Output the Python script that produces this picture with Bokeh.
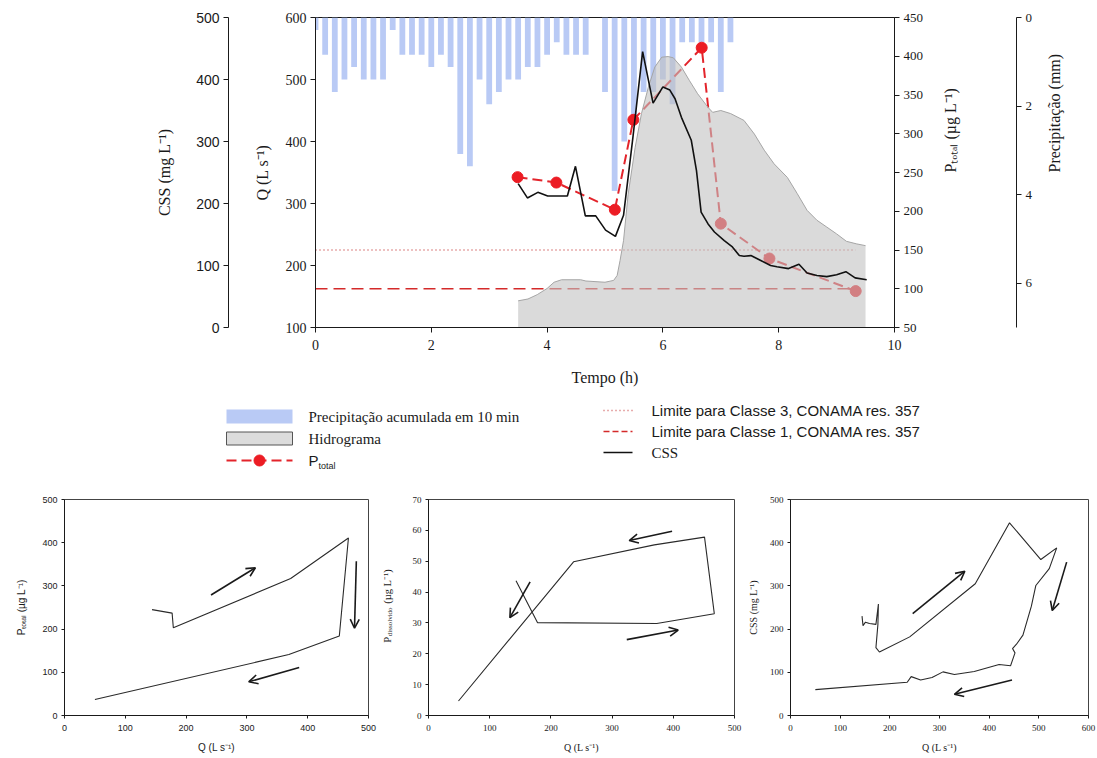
import math
from bokeh.plotting import figure
from bokeh.layouts import column, row
from bokeh.models import Range1d, LinearAxis, FixedTicker, Arrow, OpenHead
from bokeh.embed import file_html
from bokeh.resources import INLINE
from bokeh.core.properties import value

SERIF = "Liberation Serif"
SANS = "Liberation Sans"
TXT = "#1a1a1a"

# ---------------- data: top chart ----------------
precip_min = [0, 10, 20, 30, 40, 50, 60, 70, 80, 90, 100, 110, 120, 130, 140, 150, 160,
              170, 180, 190, 200, 210, 220, 230, 240, 250, 260, 270, 280,
              300, 310, 320, 330, 340, 350, 360, 370, 380, 390, 400, 410, 420, 430]
precip_mm = [0.28, 0.84, 1.68, 1.40, 1.12, 1.40, 1.40, 1.40, 0.28, 0.84, 0.84, 0.84, 1.12,
             0.84, 1.12, 3.08, 3.36, 1.40, 1.96, 1.68, 1.40, 1.40, 1.12, 1.12, 0.84, 0.56,
             0.84, 0.84, 0.84,
             1.68, 3.92, 2.80, 2.24, 1.68, 1.68, 1.40, 1.96, 0.56, 0.56, 0.56, 0.56, 1.68, 0.56]

q_t = [3.50, 3.67, 3.83, 4.00, 4.12, 4.25, 4.58, 4.67, 5.00, 5.15, 5.21, 5.26, 5.32, 5.40,
       5.52, 5.63, 5.75, 5.86, 5.98, 6.09, 6.18, 6.32, 6.46, 6.60, 6.78, 6.86, 7.00, 7.17,
       7.40, 7.58, 7.75, 7.92, 8.15, 8.32, 8.49, 8.66, 8.83, 9.00, 9.17, 9.34, 9.50]
q_val = [143, 146, 153, 163, 173, 177, 177, 175, 173, 176, 184, 208, 240, 315,
         390, 445, 488, 520, 536, 537, 535, 520, 498, 477, 455, 447, 450, 445,
         434, 412, 386, 364, 342, 316, 289, 273, 262, 251, 239, 235, 232]

css_t = [3.50, 3.66, 3.84, 4.01, 4.35, 4.49, 4.66, 4.84, 5.01, 5.18, 5.32, 5.48, 5.65, 5.83,
         6.00, 6.12, 6.21, 6.32, 6.49, 6.58, 6.66, 6.78, 6.89, 7.06, 7.20, 7.32, 7.40, 7.52,
         7.69, 7.86, 7.97, 8.17, 8.35, 8.49, 8.66, 8.83, 9.00, 9.16, 9.32, 9.52]
css_val = [232, 209, 218, 212, 212, 260, 180, 180, 157, 147, 181, 305, 445, 362,
           388, 383, 369, 339, 302, 253, 186, 167, 154, 140, 130, 116, 115, 116,
           108, 100, 98, 95, 102, 88, 84, 82, 85, 90, 80, 77]

p_t = [3.49, 4.16, 5.17, 5.49, 6.67, 7.00, 7.84, 9.33]
p_val = [244, 237, 202, 318, 411, 184, 139, 97]

limit_t = [0.0, 9.33]
limit_classe3 = 150
limit_classe1 = 100

x_ticks = [0, 2, 4, 6, 8, 10]
q_ticks = [100, 200, 300, 400, 500, 600]
css_ticks = [0, 100, 200, 300, 400, 500]
p_ticks = [50, 100, 150, 200, 250, 300, 350, 400, 450]
precip_ticks = [0, 2, 4, 6]

# ---------------- data: bottom charts ----------------
b1_q = [144, 177, 179, 372, 467, 452, 369, 50]
b1_p = [245, 237, 203, 317, 411, 184, 141, 37]
b1_arrows = [((241, 279), (314, 342)), ((480, 357), (477, 202)), ((386, 111), (303, 78))]

b2_q = [143, 178, 373, 467, 451, 369, 237, 49]
b2_p = [43.7, 30.1, 29.8, 33.0, 57.8, 55.3, 49.8, 4.7]
b2_arrows = [((398, 59.7), (328, 56.7)), ((166, 43.3), (133, 31.7)), ((324, 24.6), (408, 27.7))]

b3_q = [144, 146, 151, 159, 172, 177, 176, 172, 179, 240, 372, 441, 504, 536, 521, 494,
        485, 468, 455, 447, 452, 443, 420, 370, 330, 307, 285, 262, 243, 235, 50]
b3_css = [230, 208, 216, 213, 211, 258, 211, 157, 147, 182, 305, 446, 361, 388, 340, 301,
          253, 186, 165, 155, 145, 115, 118, 102, 95, 101, 88, 82, 90, 77, 60]
b3_arrows = [((246, 236), (351, 334)), ((556, 355), (527, 243)), ((446, 82), (330, 49))]

# ---------------- helpers ----------------
def style_axis(ax, ticks, font, size, label=None, label_font=SERIF, label_size=16,
               label_standoff=8, tick_out=5, label_gap=4):
    ax.ticker = FixedTicker(ticks=ticks)
    ax.minor_tick_line_color = None
    ax.major_tick_in = 0
    ax.major_tick_out = tick_out
    ax.major_tick_line_color = TXT
    ax.axis_line_color = TXT
    ax.major_label_text_font = font
    ax.major_label_text_font_size = f"{size}px"
    ax.major_label_text_color = TXT
    ax.major_label_standoff = label_gap
    if label is not None:
        ax.axis_label = label
        ax.axis_label_text_font = label_font
        ax.axis_label_text_font_size = f"{label_size}px"
        ax.axis_label_text_font_style = "normal"
        ax.axis_label_text_color = TXT
        ax.axis_label_standoff = label_standoff


def blank(f):
    f.grid.visible = False
    f.background_fill_color = "white"
    f.border_fill_color = "white"


TOP_H = 390
precip_h = [m / 60 for m in precip_min]

q_range = Range1d(100, 600)
css_range = Range1d(0, 500)
p_range = Range1d(50, 450)
precip_range = Range1d(7, 0)

# CSS axis (own narrow figure)
cssf = figure(width=240, height=TOP_H, x_range=Range1d(0, 1), y_range=css_range,
              min_border_left=228, min_border_right=0, min_border_top=17, min_border_bottom=63,
              output_backend="svg", toolbar_location=None)
blank(cssf)
cssf.outline_line_color = None
cssf.xaxis.visible = False
style_axis(cssf.yaxis[0], css_ticks, SANS, 14, "CSS (mg L\u207b\u00b9)", label_standoff=20)

# main chart
main = figure(width=730, height=TOP_H, x_range=Range1d(0, 10), y_range=q_range,
              min_border_left=75, min_border_right=72, min_border_top=17, min_border_bottom=63,
              output_backend="svg", toolbar_location=None)
blank(main)
main.outline_line_color = TXT
main.extra_y_ranges = {"css": css_range, "p": p_range, "precip": precip_range}

main.vbar(x=precip_h, width=0.1, top=0, bottom=precip_mm, y_range_name="precip",
          fill_color="#b9caf5", line_color=None)
main.line(limit_t, [limit_classe3, limit_classe3], y_range_name="p", line_color="#cf5a5a",
          line_width=1.5, line_dash="1 3")
main.line(limit_t, [limit_classe1, limit_classe1], y_range_name="p", line_color="#d42a2a",
          line_width=1.6, line_dash="12 6")
main.line(p_t, p_val, y_range_name="p", line_color="#e3242b", line_width=2, line_dash="10 5")
main.scatter(p_t, p_val, y_range_name="p", size=11, fill_color="#ec1c24", line_color="#ec1c24")
main.varea(x=q_t, y1=q_range.start, y2=q_val, fill_color="#c2c2c2", fill_alpha=0.6)
main.line(q_t, q_val, line_color="#a5a5a5", line_width=1)
main.line(css_t, css_val, y_range_name="css", line_color="#111111", line_width=1.6)

style_axis(main.yaxis[0], q_ticks, SERIF, 14, "Q (L s\u207b\u00b9)", label_standoff=12)
style_axis(main.xaxis[0], x_ticks, SERIF, 14, "Tempo (h)", label_standoff=16, label_gap=7)
p_axis = LinearAxis(y_range_name="p")
style_axis(p_axis, p_ticks, SERIF, 13, "P\u209c\u2092\u209c\u2090\u2097 (\u00b5g L\u207b\u00b9)",
           label_standoff=24)
p_axis.axis_label_orientation = math.pi / 2
main.add_layout(p_axis, "right")

# precipitation axis (own narrow figure)
prf = figure(width=119, height=TOP_H, x_range=Range1d(0, 1), y_range=precip_range,
             y_axis_location="right",
             min_border_left=0, min_border_right=73, min_border_top=17, min_border_bottom=63,
             output_backend="svg", toolbar_location=None)
blank(prf)
prf.outline_line_color = None
prf.xaxis.visible = False
style_axis(prf.yaxis[0], precip_ticks, SERIF, 13, "Precipita\u00e7\u00e3o (mm)", label_standoff=19)
prf.yaxis[0].axis_label_orientation = math.pi / 2

top = row(cssf, main, prf)

# ---------------- legend ----------------
LEG_W = 1096
leg = figure(width=LEG_W, height=87, x_range=Range1d(0, LEG_W), y_range=Range1d(87, 0),
             min_border=0, output_backend="svg", toolbar_location=None)
blank(leg)
leg.axis.visible = False
leg.outline_line_color = None

lx0, lx1 = 226, 292
leg.rect(x=[(lx0 + lx1) / 2], y=[26], width=lx1 - lx0, height=14, fill_color="#b9caf5", line_color=None)
leg.rect(x=[(lx0 + lx1) / 2], y=[48], width=lx1 - lx0, height=13, fill_color="#dcdcdc",
         line_color="#555555", line_width=1)
leg.line([lx0, lx1], [70, 70], line_color="#e3242b", line_width=2, line_dash="10 5")
leg.scatter([(lx0 + lx1) / 2], [70], size=11, fill_color="#ec1c24", line_color="#ec1c24")
leg.text(x=[308, 308], y=[26, 48], text=["Precipita\u00e7\u00e3o acumulada em 10 min", "Hidrograma"],
         text_font=value(SERIF), text_font_size="15px", text_baseline="middle", text_color=TXT)
leg.text(x=[308], y=[70], text=["P"], text_font=value(SANS), text_font_size="15px",
         text_baseline="middle", text_color=TXT)
leg.text(x=[318], y=[75], text=["total"], text_font=value(SANS), text_font_size="9px",
         text_baseline="middle", text_color=TXT)

rx0, rx1 = 603, 632
leg.line([rx0, rx1], [20, 20], line_color="#cf5a5a", line_width=1.5, line_dash="1 3")
leg.line([rx0, rx1], [41, 41], line_color="#d42a2a", line_width=1.6, line_dash="6 3")
leg.line([rx0, rx1], [62, 62], line_color="#111111", line_width=1.6)
leg.text(x=[651, 651], y=[20, 41],
         text=["Limite para Classe 3, CONAMA res. 357", "Limite para Classe 1, CONAMA res. 357"],
         text_font=value(SANS), text_font_size="15px", text_baseline="middle", text_color=TXT)
leg.text(x=[651], y=[62], text=["CSS"], text_font=value(SERIF), text_font_size="15px",
         text_baseline="middle", text_color=TXT)


# ---------------- bottom charts ----------------
BOT_H = 278
BT, BB = 22, 38


def small_plot(width, bl, br, xr, yr, xt, yt, font, xs, ys, ylabel, arrows, tick_size,
               lab_size, ylab_standoff=8):
    f = figure(width=width, height=BOT_H, x_range=Range1d(*xr), y_range=Range1d(*yr),
               min_border_left=bl, min_border_right=br, min_border_top=BT, min_border_bottom=BB,
               output_backend="svg", toolbar_location=None)
    blank(f)
    f.outline_line_color = "#444444"
    f.line(xs, ys, line_color="#2a2a2a", line_width=1.1)
    for (x0, y0), (x1, y1) in arrows:
        f.add_layout(Arrow(x_start=x0, y_start=y0, x_end=x1, y_end=y1, line_width=1.6,
                           line_color="#1a1a1a",
                           end=OpenHead(size=9, line_width=1.6, line_color="#1a1a1a")))
    style_axis(f.xaxis[0], xt, font, tick_size, "Q (L s\u207b\u00b9)", label_font=font,
               label_size=lab_size, label_standoff=8, tick_out=3, label_gap=6)
    style_axis(f.yaxis[0], yt, font, tick_size, ylabel, label_font=font,
               label_size=lab_size, label_standoff=ylab_standoff, tick_out=3)
    return f


f1 = small_plot(378, 64, 10, (0, 500), (0, 500), [0, 100, 200, 300, 400, 500],
                [0, 100, 200, 300, 400, 500], SANS, b1_q, b1_p,
                "P\u209c\u2092\u209c\u2090\u2097 (\u00b5g L\u207b\u00b9)", b1_arrows, 9, 10,
                ylab_standoff=12)

b2_yrange = Range1d(0, 70)
f2 = small_plot(349, 33, 10, (0, 500), (0, 70), [0, 100, 200, 300, 400, 500],
                [0, 10, 20, 30, 40, 50, 60, 70], SERIF, b2_q, b2_p, None, b2_arrows, 9, 10)
f2.y_range = b2_yrange

# label column for dissolved P (subscript composed from pieces)
lab2 = figure(width=17, height=BOT_H, x_range=Range1d(0, 17), y_range=b2_yrange,
              min_border_left=0, min_border_right=0, min_border_top=BT, min_border_bottom=BB,
              output_backend="svg", toolbar_location=None)
blank(lab2)
lab2.axis.visible = False
lab2.outline_line_color = None
lab2.text(x=[8.5], y=[23.6], text=["P"], angle=math.pi / 2, text_font=value(SERIF),
          text_font_size="10.5px", text_baseline="middle", text_align="left", text_color=TXT)
lab2.text(x=[11.5], y=[25.7], text=["dissolvido"], angle=math.pi / 2, text_font=value(SERIF),
          text_font_size="7px", text_baseline="middle", text_align="left", text_color=TXT)
lab2.text(x=[8.5], y=[36.2], text=["(\u00b5g L\u207b\u00b9)"], angle=math.pi / 2,
          text_font=value(SERIF), text_font_size="10.5px", text_baseline="middle",
          text_align="left", text_color=TXT)

f3 = small_plot(352, 42, 8, (0, 600), (0, 500), [0, 100, 200, 300, 400, 500, 600],
                [0, 100, 200, 300, 400, 500], SERIF, b3_q, b3_css, "CSS (mg L\u207b\u00b9)",
                b3_arrows, 9, 10)

bottom = row(f1, lab2, f2, f3)
layout = column(top, leg, bottom)

open("out.html", "w").write(file_html(layout, INLINE))
